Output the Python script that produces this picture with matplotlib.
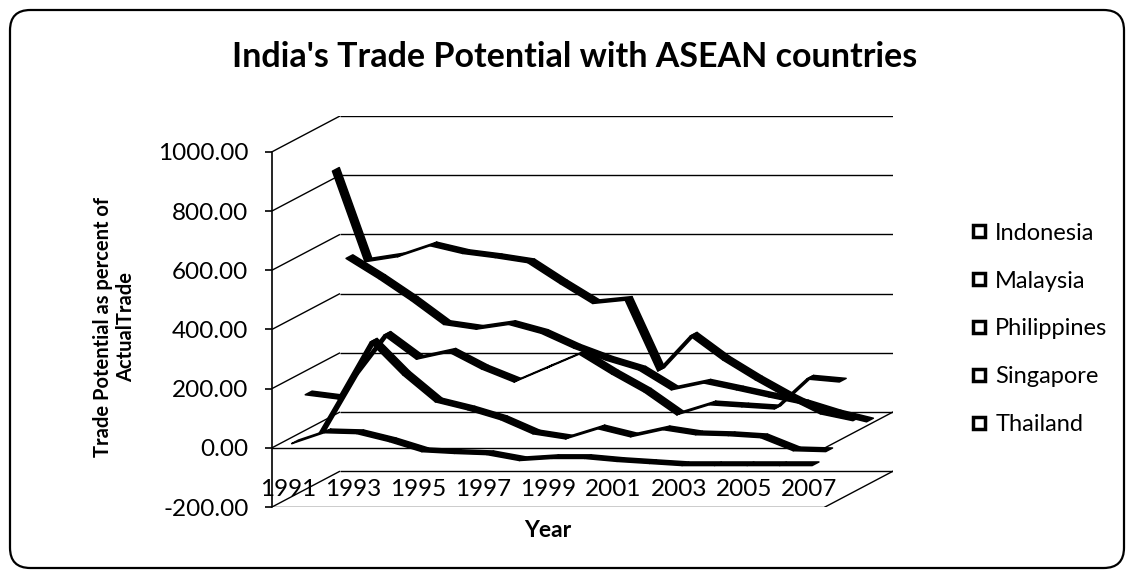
import numpy as np
import matplotlib
matplotlib.use("Agg")
import matplotlib.pyplot as plt
from matplotlib.patches import Polygon, FancyBboxPatch
from matplotlib.lines import Line2D
from matplotlib.ticker import FormatStrFormatter

plt.rcParams["font.family"] = ["Lato", "DejaVu Sans"]

# ---- data -------------------------------------------------------------
years = list(range(1991, 2008))
countries = ["Indonesia", "Malaysia", "Philippines", "Singapore", "Thailand"]

indonesia = [8, 45, 42, 15, -19, -25, -29, -49, -42, -42, -52, -59, -66, -66, -66, -66, -66]
malaysia = [149, 135, 327, 216, 125, 98, 65, 17, 0, 34, 7, 31, 14, 11, 4, -40, -43]
philippines = [-7, 182, 326, 245, 269, 212, 168, 215, 262, 195, 134, 57, 91, 84, 77, 178, 168]
singapore = [856, 550, 567, 604, 578, 564, 547, 476, 409, 420, 181, 299, 218, 151, 90, 36, 13]
thailand = [537, 469, 395, 314, 298, 314, 284, 234, 193, 160, 93, 116, 93, 69, 46, 12, -15]

series = [indonesia, malaysia, philippines, singapore, thailand]
value_ticks = [-200, 0, 200, 400, 600, 800, 1000]

# ---- oblique 3-D projection helpers -------------------------------------
DEPTH_X = 2.09    # depth of the box, in category widths
DEPTH_Y = 121.0   # depth of the box, in value units
n = len(years)
x_lo, x_hi = -0.5, n - 0.5
v_lo, v_hi = value_ticks[0], value_ticks[-1]


def project(i, v, d):
    """Map (category index, value, depth fraction 0..1) to the 2-D axes."""
    return i + d * DEPTH_X, v + d * DEPTH_Y


fig = plt.figure(figsize=(11.3, 5.77), dpi=100)
ax = fig.add_axes([272 / 1130, 70 / 577, 621 / 1130, 391 / 577])
ax.set_xlim(x_lo, x_hi + DEPTH_X)
ax.set_ylim(v_lo, v_hi + DEPTH_Y)

grid_kw = dict(color="black", lw=1.0, solid_capstyle="butt", zorder=1)

# back wall gridlines plus their left-wall diagonals
for v in value_ticks:
    bx0, by = project(x_lo, v, 1)
    bx1, _ = project(x_hi, v, 1)
    ax.plot([bx0, bx1], [by, by], **grid_kw)
    ax.plot([x_lo, bx0], [v, by], **grid_kw)

# floor outline (bottom) and the plane at zero
for v in (v_lo, 0):
    fx1, fy1 = project(x_hi, v, 1)
    ax.plot([x_lo, x_hi], [v, v], color="black", lw=1.0, zorder=4)
    ax.plot([x_hi, fx1], [v, fy1], color="black", lw=1.0, zorder=4)

# ribbons, back to front
for k in range(len(series) - 1, -1, -1):
    vals = series[k]
    d0 = (k + 0.25) / len(series)
    d1 = (k + 0.75) / len(series)
    for j in range(n - 1):
        pts = [project(j, vals[j], d0), project(j + 1, vals[j + 1], d0),
               project(j + 1, vals[j + 1], d1), project(j, vals[j], d1)]
        ax.add_patch(Polygon(pts, closed=True, facecolor="black",
                             edgecolor="black", lw=1.1, joinstyle="round",
                             zorder=2 + (len(series) - k) * 0.1))

# value axis on the front-left edge
for side in ("top", "right", "bottom"):
    ax.spines[side].set_visible(False)
ax.spines["left"].set_position(("data", x_lo))
ax.spines["left"].set_bounds(v_lo, v_hi)
ax.spines["left"].set_linewidth(1.2)
ax.set_yticks(value_ticks)
ax.yaxis.set_major_formatter(FormatStrFormatter("%.2f"))
ax.tick_params(axis="y", direction="out", length=5, width=1.2, pad=12,
               labelsize=17.5)
ax.set_xticks([])

# category labels
for i in range(0, n, 2):
    ax.text(i, -141, str(years[i]), ha="center", va="center", fontsize=17.5)

ax.set_ylabel("Trade Potential as percent of\nActualTrade", fontsize=14.5,
              fontweight="bold", multialignment="center")
ax.yaxis.set_label_coords(-0.219, 0.46)
ax.text(0.444, -0.059, "Year", transform=ax.transAxes, ha="center",
        va="center", fontsize=16.5, fontweight="bold")

fig.text(575 / 1130, 1 - 57 / 577, "India's Trade Potential with ASEAN countries",
         ha="center", va="center", fontsize=24.5, fontweight="bold")

handles = [Line2D([], [], ls="none", marker="s", markersize=9,
                  markerfacecolor="white", markeredgecolor="black",
                  markeredgewidth=2.5) for _ in countries]
fig.legend(handles, countries, loc="center left",
           bbox_to_anchor=(948 / 1130, 1 - 329 / 577), frameon=False,
           fontsize=17, labelspacing=1.14, handletextpad=0.3,
           handlelength=0.8)

frame = FancyBboxPatch((10 / 1130, 9 / 577), 1114 / 1130, 558 / 577,
                       boxstyle="round,pad=0,rounding_size=0.018",
                       mutation_aspect=1130 / 577, transform=fig.transFigure,
                       facecolor="none", edgecolor="black", lw=1.6)
fig.patches.append(frame)

fig.savefig("out.png", dpi=100)
